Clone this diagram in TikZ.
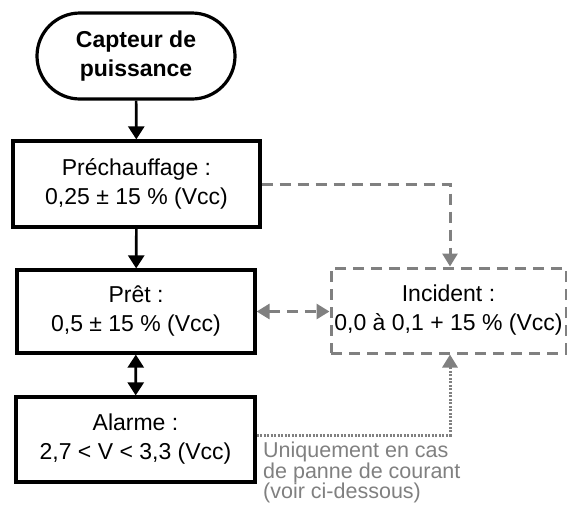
\documentclass[tikz,border=0pt]{standalone}
\usepackage{fontspec}
\setmainfont{Liberation Sans}
\usetikzlibrary{arrows.meta,shapes.misc}
\definecolor{linegray}{RGB}{128,128,128}

\begin{document}
\begin{tikzpicture}[x=1pt, y=-1pt,
    statebox/.style={draw, line width=3.2pt, align=center, inner sep=2pt,
        font=\fontsize{23}{29}\selectfont},
    flow/.style={line width=2.6pt, -{Triangle[length=13pt,width=16pt]}},
    grayflow/.style={linegray, line width=3pt, dash pattern=on 11pt off 7pt,
        -{Triangle[length=13pt,width=15pt]}}]
    \useasboundingbox (0,0) rectangle (567,504);

    % Start
    \node[statebox, rounded rectangle, minimum width=202pt, minimum height=86pt,
        font=\fontsize{23}{29}\selectfont\bfseries] (capteur) at (136,56)
        {Capteur de\\puissance};

    % States
    \node[statebox, minimum width=247pt, minimum height=86pt] (prechauffage) at (136.5,184)
        {Préchauffage :\\0,25 ± 15 \% (Vcc)};
    \node[statebox, minimum width=238pt, minimum height=83pt] (pret) at (136,311.5)
        {Prêt :\\0,5 ± 15 \% (Vcc)};
    \node[statebox, minimum width=239pt, minimum height=85pt] (alarme) at (135.5,439.5)
        {Alarme :\\2,7 < V < 3,3 (Vcc)};
    \node[statebox, draw=linegray, line width=3pt, dash pattern=on 11pt off 7pt,
        minimum width=235pt, minimum height=85pt] (incident) at (448.5,310.5)
        {Incident :\\0,0 à 0,1 + 15 \% (Vcc)};

    % Note
    \node[anchor=north west, align=left, inner sep=0pt, text=linegray,
        font=\fontsize{21.5}{20.5}\selectfont] (note) at (263,442)
        {Uniquement en cas\\de panne de courant\\(voir ci-dessous)};

    % Main flow
    \draw[flow] (capteur) -- (prechauffage);
    \draw[flow] (prechauffage) -- (pret);
    \draw[flow, {Triangle[length=13pt,width=16pt]}-{Triangle[length=13pt,width=16pt]}] (pret) -- (alarme);

    % Incident links
    \draw[grayflow] (prechauffage.east) -| ([xshift=1.5pt]incident.north);
    \draw[grayflow, {Triangle[length=13pt,width=15pt]}-{Triangle[length=13pt,width=15pt]}] (pret.east) -- (pret.east -| incident.west);
    \draw[grayflow, dash pattern=on 2pt off 1.5pt] ([yshift=4.5pt]alarme.east) -| ([xshift=1.5pt]incident.south);
\end{tikzpicture}
\end{document}
